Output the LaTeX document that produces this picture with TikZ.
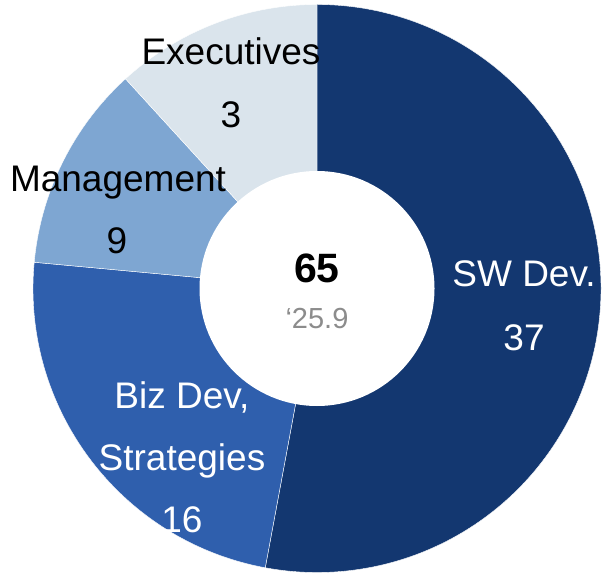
\documentclass[tikz,border=0pt]{standalone}
\usepackage{fontspec}
\setmainfont{Liberation Sans}
\definecolor{swdev}{HTML}{133770}
\definecolor{bizdev}{HTML}{2F5FAD}
\definecolor{mgmt}{HTML}{7EA6D2}
\definecolor{exec}{HTML}{DAE4EC}
\definecolor{subgray}{HTML}{8C8C8C}
\begin{document}
\begin{tikzpicture}[x=1pt,y=-1pt,
  slice/.style={draw=white,line width=0.4pt},
  lbl/.style={font=\fontsize{37}{44}\selectfont,inner sep=0pt,anchor=base},
  wlbl/.style={lbl,text=white},
  blbl/.style={lbl,text=black}]
\useasboundingbox (0,0) rectangle (607,577);
\coordinate (c) at (317,288.5);
\def\R{284}
\fill[swdev,slice] (c) -- ++(-90:\R) arc[start angle=-90,end angle=100.5,radius=\R] -- cycle;
\fill[bizdev,slice] (c) -- ++(100.5:\R) arc[start angle=100.5,end angle=185.3,radius=\R] -- cycle;
\fill[mgmt,slice] (c) -- ++(185.3:\R) arc[start angle=185.3,end angle=227.6,radius=\R] -- cycle;
\fill[exec,slice] (c) -- ++(227.6:\R) arc[start angle=227.6,end angle=270,radius=\R] -- cycle;
\fill[white] (c) circle[radius=117.5];
\node[blbl] (exn) at (231,65) {Executives};
\node[blbl] (exv) at (231,128) {3};
\node[blbl] (mgn) at (118,192) {Management};
\node[blbl] (mgv) at (117,254) {9};
\node[wlbl] (swn) at (524,286) {SW Dev.};
\node[wlbl] (swv) at (524,350) {37};
\node[wlbl] (bzn) at (182,408) {Biz Dev,};
\node[wlbl] (bzs) at (182,470) {Strategies};
\node[wlbl] (bzv) at (182,532) {16};
\node[lbl,font=\fontsize{41}{48}\selectfont\bfseries] (tot) at (317,282) {65};
\node[lbl,font=\fontsize{29}{34}\selectfont,text=subgray] (yr) at (317,328) {‘25.9};
\end{tikzpicture}
\end{document}
